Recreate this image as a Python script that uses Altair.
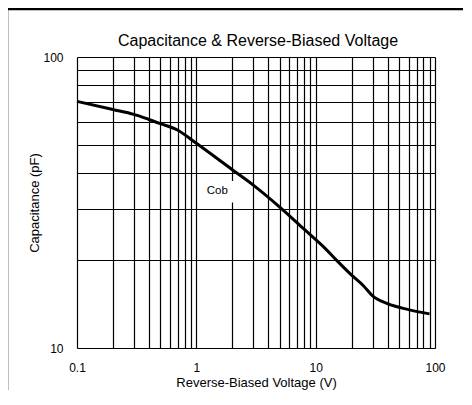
import altair as alt
import pandas as pd

# --- data ---
voltage = [0.1, 0.2, 0.3, 0.4, 0.5, 0.7, 1, 2, 3, 5, 8, 12, 15, 20, 25, 30, 40, 60, 90]
capacitance = [70.4, 66.0, 63.5, 61.0, 59.0, 56.0, 50.5, 41.0, 36.3, 30.5, 25.6, 22.0, 20.0, 17.8, 16.4, 15.1, 14.2, 13.55, 13.1]

x_grid = [0.1, 0.2, 0.3, 0.4, 0.5, 0.6, 0.7, 0.8, 0.9,
          1, 2, 3, 4, 5, 6, 7, 8, 9,
          10, 20, 30, 40, 50, 60, 70, 80, 90, 100]
y_grid = [10, 20, 30, 40, 50, 60, 70, 80, 90, 100]
x_labels = [0.1, 1, 10, 100]
y_labels = [10, 100]

chart_title = "Capacitance & Reverse-Biased Voltage"
series_name = "Cob"
label_v, label_c = [1.5], [34.5]
label_box_v, label_box_c = [1.12, 2.1], [31.6, 37.5]

FONT = "Liberation Sans"

df = pd.DataFrame({"V": voltage, "C": capacitance})

xscale = alt.Scale(type="log", domain=[0.1, 100], nice=False)
yscale = alt.Scale(type="log", domain=[10, 100], nice=False)

grid_common = dict(ticks=False, domain=False, labels=False, title=None,
                   grid=True, gridColor="#000", gridWidth=1.2, gridOpacity=1)
xgrid_axis = alt.Axis(values=x_grid, orient="bottom", **grid_common)
ygrid_axis = alt.Axis(values=y_grid, orient="left", **grid_common)

xlab_axis = alt.Axis(values=x_labels, orient="bottom", format="~g", ticks=False, domain=False, grid=False,
                     labelFont=FONT, labelFontSize=12, labelColor="#000", labelPadding=14,
                     labelFlush=False, labelOverlap=False,
                     title="Reverse-Biased Voltage (V)", titleFont=FONT, titleFontSize=13,
                     titleFontWeight="normal", titleColor="#000", titlePadding=3)
ylab_axis = alt.Axis(values=y_labels, orient="left", format="~g", ticks=False, domain=False, grid=False,
                     labelFont=FONT, labelFontSize=12, labelColor="#000", labelPadding=14,
                     labelFlush=False, labelOverlap=False,
                     title="Capacitance (pF)", titleFont=FONT, titleFontSize=13,
                     titleFontWeight="normal", titleColor="#000", titlePadding=1)

grid_layer = alt.Chart(df).mark_point(opacity=0).encode(
    x=alt.X("V:Q", scale=xscale, axis=xgrid_axis),
    y=alt.Y("C:Q", scale=yscale, axis=ygrid_axis),
)

box_df = pd.DataFrame({"v1": [label_box_v[0]], "v2": [label_box_v[1]],
                       "c1": [label_box_c[0]], "c2": [label_box_c[1]]})
box = alt.Chart(box_df).mark_rect(color="white").encode(
    x=alt.X("v1:Q", scale=xscale, axis=None), x2="v2:Q",
    y=alt.Y("c1:Q", scale=yscale, axis=None), y2="c2:Q",
)

lab_df = pd.DataFrame({"V": label_v, "C": label_c, "t": [series_name]})
label = alt.Chart(lab_df).mark_text(font=FONT, fontSize=11.5, color="#000").encode(
    x=alt.X("V:Q", scale=xscale, axis=None), y=alt.Y("C:Q", scale=yscale, axis=None), text="t:N"
)

line = alt.Chart(df).mark_line(color="#000", strokeWidth=3, interpolate="monotone").encode(
    x=alt.X("V:Q", scale=xscale, axis=xlab_axis),
    y=alt.Y("C:Q", scale=yscale, axis=ylab_axis),
)

one = pd.DataFrame({"t": [chart_title]})
frame = alt.Chart(one).mark_rect(fill=None, filled=False, stroke="#000", strokeWidth=2.5).encode(
    x=alt.value(-70), x2=alt.value(520), y=alt.value(-48), y2=alt.value(520))
title_text = alt.Chart(one).mark_text(font=FONT, fontSize=16, color="#000", baseline="middle",
                                      align="center").encode(
    x=alt.value(181), y=alt.value(-16), text="t:N")

chart = alt.layer(grid_layer, box, label, line, frame, title_text).resolve_axis(
    x="independent", y="independent"
).properties(
    width=358, height=291,
    autosize=alt.AutoSizeParams(type="none"),
    padding={"left": 69, "top": 49, "right": 28, "bottom": 42},
).configure_view(stroke="#000", strokeWidth=1.5).configure(background="white")

chart.save("out.html", embed_options={"renderer": "svg", "actions": False})
